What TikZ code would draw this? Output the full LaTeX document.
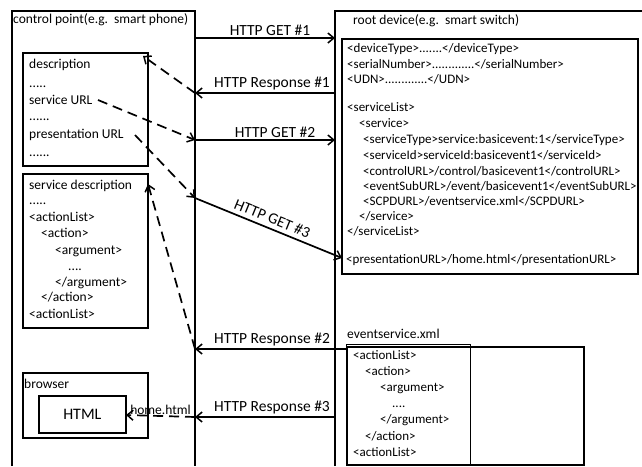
\documentclass[tikz,border=0pt]{standalone}
\usepackage{fontspec}
\setmainfont{Carlito}
\usetikzlibrary{arrows.meta}
\begin{document}
\begin{tikzpicture}[x=1pt,y=-1pt,
  frame/.style={line width=1.7pt},
  box/.style={draw,line width=1.7pt,inner sep=0pt,anchor=north west},
  txt/.style={anchor=base west,inner sep=0pt,font=\fontsize{13.5}{16}\selectfont},
  xml/.style={anchor=base west,inner sep=0pt,font=\fontsize{13}{16}\selectfont},
  msg/.style={line width=1.7pt,-{Straight Barb[length=6pt,width=10pt,line width=1.5pt]}},
  dmsg/.style={msg,dash pattern=on 10pt off 6pt},
  lbl/.style={font=\fontsize{15.5}{18}\selectfont,inner sep=1pt}]
\useasboundingbox (0,0) rectangle (642,466);

% frames
\draw[frame] (12,466) -- (12,11) -- (195,11) -- (195,466);
\draw[frame] (335,466) -- (335,11) -- (642,11);
\node[txt] (cptitle) at (13,23) {control point(e.g.\ \ smart phone)};
\node[txt] (rdtitle) at (353,24) {root device(e.g.\ \ smart switch)};

% description box
\node[box,minimum width=125pt,minimum height=113pt] (desc) at (22,52) {};
\node[txt] (d1) at (29,68) {description};
\node[txt] (d2) at (29,87) {.....};
\node[txt] (d3) at (29,104) {service URL};
\node[txt] (d4) at (29,120) {......};
\node[txt] (d5) at (29,138) {presentation URL};
\node[txt] (d6) at (29,156) {......};

% service description box
\node[box,minimum width=125pt,minimum height=154pt] (sdesc) at (22,173) {};
\node[txt] (s1) at (29,189) {service description};
\node[txt] (s2) at (29,204) {.....};
\node[txt] (s3) at (29,221) {<actionList>};
\node[txt] (s4) at (41,237) {<action>};
\node[txt] (s5) at (55,254) {<argument>};
\node[txt] (s6) at (68,270) {....};
\node[txt] (s7) at (55,286) {</argument>};
\node[txt] (s8) at (41,301) {</action>};
\node[txt] (s9) at (29,318) {<actionList>};

% browser box
\node[box,minimum width=125pt,minimum height=65pt] (browser) at (22,372) {};
\node[txt] (btitle) at (24,388) {browser};
\node[box,minimum width=87pt,minimum height=37pt,font=\fontsize{16}{18}\selectfont] (html) at (38,395) {HTML};

% root device xml box
\node[box,minimum width=296pt,minimum height=235pt] (rxml) at (341,38) {};
\node[xml] at (347,52) {<deviceType>.......</deviceType>};
\node[xml] at (347,68) {<serialNumber>.............</serialNumber>};
\node[xml] at (347,83.5) {<UDN>.............</UDN>};
\node[xml] at (347,111) {<serviceList>};
\node[xml] at (359,127) {<service>};
\node[xml] at (363,143.5) {<serviceType>service:basicevent:1</serviceType>};
\node[xml] at (363,159.5) {<serviceId>serviceId:basicevent1</serviceId>};
\node[xml] at (363,175.5) {<controlURL>/control/basicevent1</controlURL>};
\node[xml] at (363,190.5) {<eventSubURL>/event/basicevent1</eventSubURL>};
\node[xml] at (363,205.5) {<SCPDURL>/eventservice.xml</SCPDURL>};
\node[xml] at (359,220) {</service>};
\node[xml] at (347,235) {</serviceList>};
\node[xml] (purl) at (346,263) {<presentationURL>/home.html</presentationURL>};

% eventservice box
\node[txt] (estitle) at (347,338) {eventservice.xml};
\node[box,minimum width=237pt,minimum height=118pt] (es) at (346,346) {};
\draw[line width=0.8pt] (346,344) rectangle (470,464);
\node[xml] at (353,359) {<actionList>};
\node[xml] at (365,375.2) {<action>};
\node[xml] at (380,391.4) {<argument>};
\node[xml] at (392,407.6) {....};
\node[xml] at (380,423.8) {</argument>};
\node[xml] at (365,440) {</action>};
\node[xml] at (353,456.2) {<actionList>};

% connector end points
\coordinate (g1s) at (195,38);  \coordinate (g1e) at (335,38);
\coordinate (r1s) at (335,93);  \coordinate (r1e) at (195,93);
\coordinate (g2s) at (195,140); \coordinate (g2e) at (335,140);
\coordinate (g3s) at (195,198); \coordinate (g3e) at (342,258);
\coordinate (r2s) at (346,349); \coordinate (r2e) at (195,349);
\coordinate (r3s) at (335,417); \coordinate (r3e) at (195,417);
\coordinate (descTip) at (143,56);
\coordinate (surl) at (98,100);
\coordinate (purlsrc) at (135,135);
\coordinate (sdTip) at (148,184);
\coordinate (htmlTip) at (126,415);

% HTTP messages
\draw[msg] (g1s) -- (g1e) node[lbl,midway,above=1pt,xshift=5pt] {HTTP GET \#1};
\draw[msg] (r1s) -- (r1e) node[lbl,midway,above=1pt,xshift=7pt] {HTTP Response \#1};
\draw[msg] (g2s) -- (g2e) node[lbl,midway,above=1pt,xshift=10pt] {HTTP GET \#2};
\draw[msg] (g3s) -- (g3e) node[lbl,midway,sloped,above=3pt] {HTTP GET \#3};
\draw[msg] (r2s) -- (r2e) node[lbl,pos=0.49,above=1pt] {HTTP Response \#2};
\draw[msg] (r3s) -- (r3e) node[lbl,pos=0.45,above=1pt] {HTTP Response \#3};

% dashed internal flows
\draw[dmsg] (r1e) -- (descTip);
\draw[dmsg] (surl) -- (g2s);
\draw[dmsg] (purlsrc) -- (g3s);
\draw[dmsg] (r2e) -- (sdTip);
\draw[dmsg] (r3e) -- (htmlTip) node[lbl,midway,above=0pt,font=\fontsize{13.5}{16}\selectfont] {home.html};
\end{tikzpicture}
\end{document}
